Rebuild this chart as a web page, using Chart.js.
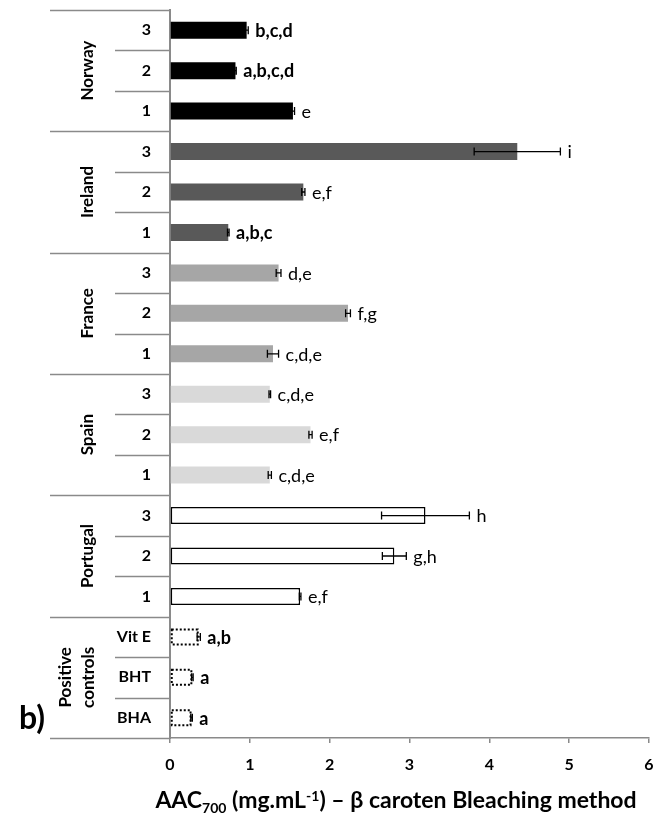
<!DOCTYPE html>
<html>
<head>
<meta charset="utf-8">
<script src="https://cdn.jsdelivr.net/npm/chart.js@4"></script>
<style>
  body { margin: 0; background: #fff; }
  #wrap { width: 658px; height: 820px; }
</style>
</head>
<body>
<div id="wrap"><canvas id="myChart" width="658" height="820"></canvas></div>
<script>
// data (top to bottom, as in the figure)
const groups = ["Norway", "Ireland", "France", "Spain", "Portugal", "Positive controls"];
const samples = ["3", "2", "1", "3", "2", "1", "3", "2", "1", "3", "2", "1", "3", "2", "1", "Vit E", "BHT", "BHA"];
const values = [0.96, 0.82, 1.54, 4.35, 1.67, 0.73, 1.36, 2.23, 1.29, 1.25, 1.76, 1.25, 3.20, 2.81, 1.63, 0.36, 0.28, 0.27];
const errors = [0.02, 0.01, 0.02, 0.54, 0.02, 0.01, 0.03, 0.03, 0.07, 0.01, 0.02, 0.02, 0.55, 0.15, 0.01, 0.02, 0.01, 0.01];
const letters = ["b,c,d", "a,b,c,d", "e", "i", "e,f", "a,b,c", "d,e", "f,g", "c,d,e", "c,d,e", "e,f", "c,d,e", "h", "g,h", "e,f", "a,b", "a", "a"];
const boldLetters = [1, 1, 0, 0, 0, 1, 0, 0, 0, 0, 0, 0, 0, 0, 0, 1, 1, 1];
const groupColors = ["#000000", "#595959", "#a6a6a6", "#d9d9d9", "#ffffff", "#ffffff"];

const FONT = "Lato";
const AXIS_GREY = "#8a8a8a";

const groupOf = (i) => Math.floor(i / 3);
const isControl = (i) => groupOf(i) === groups.length - 1;
const isPortugal = (i) => groupOf(i) === 4;

const extras = {
  id: "extras",
  afterDatasetsDraw(chart) {
    const ctx = chart.ctx;
    const xs = chart.scales.x;
    const meta = chart.getDatasetMeta(0);
    meta.data.forEach((bar, i) => {
      const p = bar.getProps(["x", "y", "base", "height"], true);
      ctx.save();
      // dotted outline for the positive controls
      if (isControl(i)) {
        ctx.setLineDash([2, 2]);
        ctx.strokeStyle = "#000";
        ctx.lineWidth = 2;
        ctx.strokeRect(p.base + 1, p.y - p.height / 2 + 1, p.x - p.base - 2, p.height - 2);
        ctx.setLineDash([]);
      }
      // error bars
      const x1 = xs.getPixelForValue(values[i] - errors[i]);
      const x2 = xs.getPixelForValue(values[i] + errors[i]);
      ctx.strokeStyle = "#000";
      ctx.lineWidth = 1.3;
      ctx.beginPath();
      ctx.moveTo(x1, p.y); ctx.lineTo(x2, p.y);
      ctx.moveTo(x1, p.y - 4); ctx.lineTo(x1, p.y + 4);
      ctx.moveTo(x2, p.y - 4); ctx.lineTo(x2, p.y + 4);
      ctx.stroke();
      // significance letters
      ctx.fillStyle = "#000";
      ctx.font = (boldLetters[i] ? "bold " : "") + "18px " + FONT;
      ctx.textAlign = "left";
      ctx.textBaseline = "middle";
      ctx.fillText(letters[i], Math.max(x2, p.x) + 7, p.y + 1);
      ctx.restore();
    });
  },
  afterDraw(chart) {
    const ctx = chart.ctx;
    const ys = chart.scales.y;
    const step = ys.getPixelForValue(1) - ys.getPixelForValue(0);
    const edge = (i) => ys.getPixelForValue(i) - step / 2;
    const axisX = chart.chartArea.left;

    ctx.save();
    ctx.strokeStyle = AXIS_GREY;
    ctx.lineWidth = 1.5;
    for (let i = 0; i <= samples.length; i++) {
      const y = Math.round(edge(i)) + 0.5;
      const x0 = i % 3 === 0 ? 50 : 115;
      ctx.beginPath();
      ctx.moveTo(x0, y); ctx.lineTo(axisX, y);
      ctx.stroke();
    }

    // group names, rotated
    ctx.fillStyle = "#000";
    ctx.font = "bold 17px " + FONT;
    ctx.textAlign = "center";
    ctx.textBaseline = "middle";
    groups.forEach((g, gi) => {
      const yc = (edge(gi * 3) + edge(gi * 3 + 3)) / 2;
      const lines = g === "Positive controls" ? ["Positive", "controls"] : [g];
      lines.forEach((t, li) => {
        const x = lines.length === 1 ? 88 : 66 + li * 23;
        ctx.save();
        ctx.translate(x, yc);
        ctx.rotate(-Math.PI / 2);
        ctx.fillText(t, 0, 0);
        ctx.restore();
      });
    });

    // panel tag
    ctx.font = "bold 32px " + FONT;
    ctx.textAlign = "left";
    ctx.fillText("b)", 19, 719);

    // axis title with subscript / superscript
    const parts = [
      { t: "AAC", size: 23, dy: 0 },
      { t: "700", size: 14, dy: 5 },
      { t: " (mg.mL", size: 23, dy: 0 },
      { t: "-1", size: 14, dy: -7 },
      { t: ") \u2013 \u03b2 caroten Bleaching method", size: 23, dy: 0 }
    ];
    let total = 0;
    parts.forEach((pt) => {
      ctx.font = "bold " + pt.size + "px " + FONT;
      pt.w = ctx.measureText(pt.t).width;
      total += pt.w;
    });
    let x = 396 - total / 2;
    ctx.textBaseline = "alphabetic";
    parts.forEach((pt) => {
      ctx.font = "bold " + pt.size + "px " + FONT;
      ctx.fillText(pt.t, x, 808 + pt.dy);
      x += pt.w;
    });
    ctx.restore();
  }
};

const data = {
  labels: samples,
  datasets: [{
    data: values,
    backgroundColor: samples.map((s, i) => groupColors[groupOf(i)]),
    borderColor: "#000",
    borderWidth: samples.map((s, i) => (isPortugal(i) ? 1.5 : 0)),
    borderSkipped: false,
    categoryPercentage: 1,
    barPercentage: 0.42
  }]
};

const config = {
  type: "bar",
  data,
  options: {
    indexAxis: "y",
    responsive: false,
    animation: false,
    layout: { padding: { top: 10, right: 0, left: 0, bottom: 0 } },
    plugins: { legend: { display: false }, tooltip: { enabled: false } },
    scales: {
      x: {
        min: 0,
        max: 6,
        ticks: { stepSize: 1, color: "#000", padding: 12, font: { family: FONT, size: 16, weight: "bold" } },
        grid: { drawOnChartArea: false, drawTicks: true, tickLength: 5, color: AXIS_GREY, lineWidth: 1.5 },
        border: { color: AXIS_GREY, width: 1.5 },
        afterFit: (s) => { s.height = 82; s.paddingRight = 9; }
      },
      y: {
        ticks: { color: "#000", padding: 11, font: { family: FONT, size: 16, weight: "bold" } },
        grid: { display: false },
        border: { color: AXIS_GREY, width: 2 },
        afterFit: (s) => { s.width = 170; s.paddingTop = 0; s.paddingBottom = 0; }
      }
    }
  },
  plugins: [extras]
};

const myChart = new Chart(document.getElementById("myChart"), config);
</script>
</body>
</html>
